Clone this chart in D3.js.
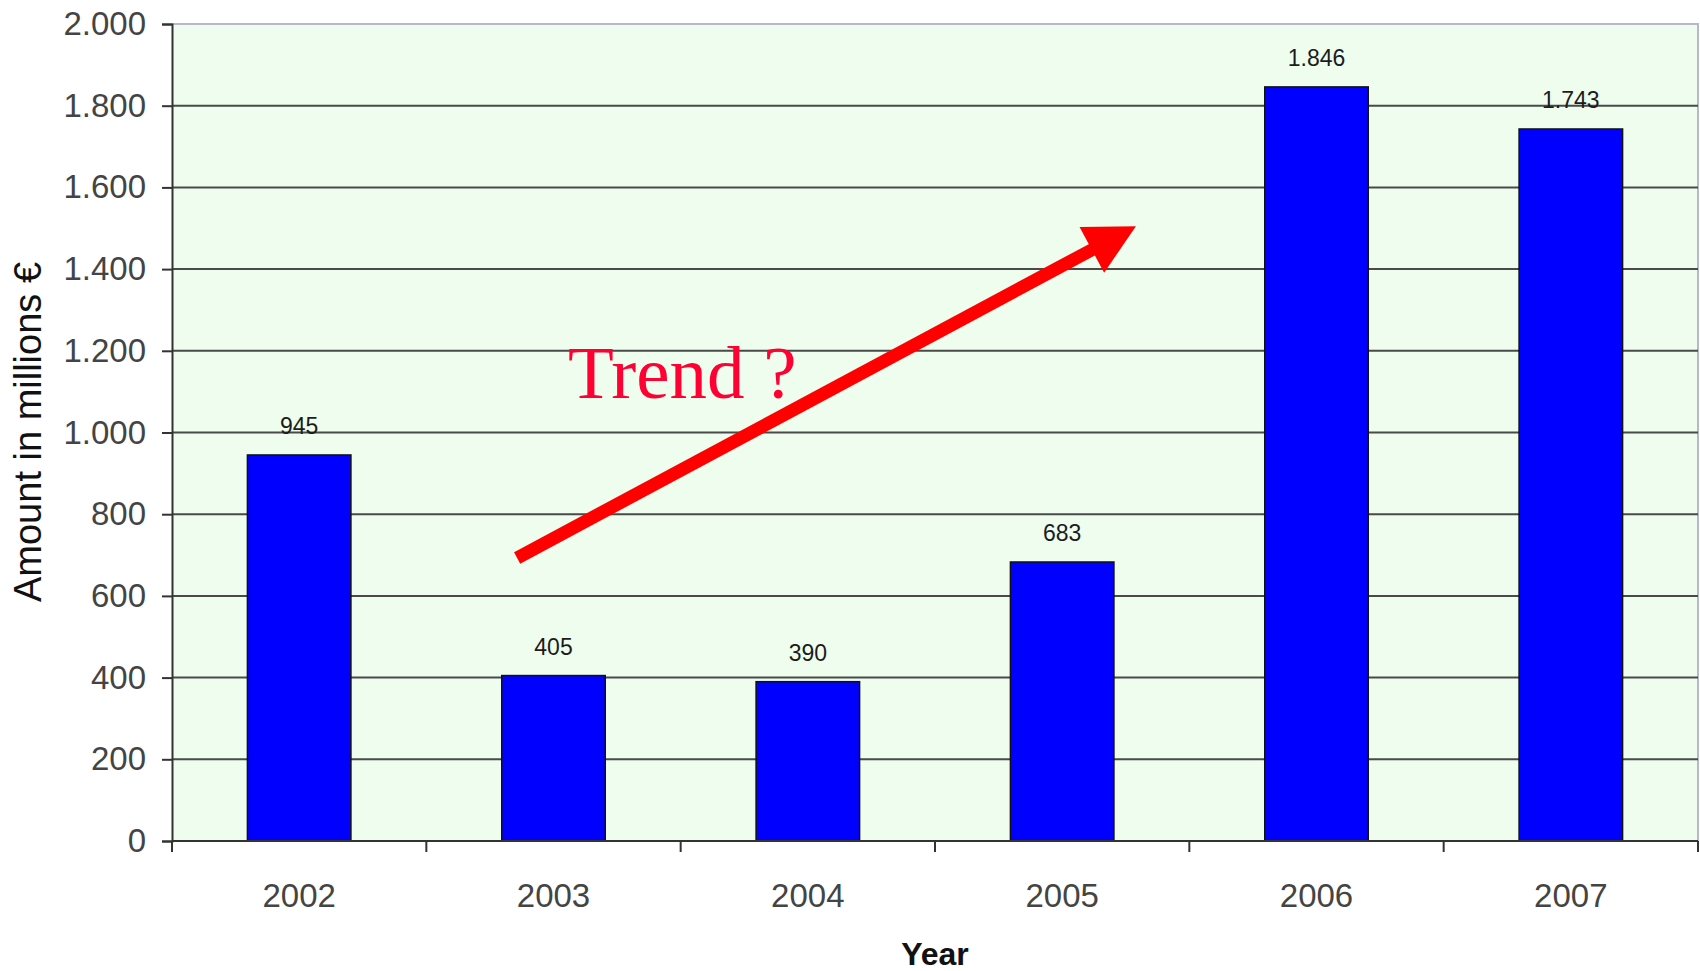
<!DOCTYPE html>
<html>
<head>
<meta charset="utf-8">
<script src="https://cdn.jsdelivr.net/npm/d3@7"></script>
<style>
  body { margin: 0; background: #fff; }
  svg { display: block; }
</style>
</head>
<body>
<div id="chart"></div>
<script>
var years = ["2002", "2003", "2004", "2005", "2006", "2007"]
var amounts = [945, 405, 390, 683, 1846, 1743]
var yTicks = [0, 200, 400, 600, 800, 1000, 1200, 1400, 1600, 1800, 2000]
// arrow annotation in data space: [category index, amount]
var arrowFrom = [0.857, 693]
var arrowTo = [3.29, 1505]
var trendPos = [1.057, 1084]

var width = 1700
var height = 971
var margin = {top: 24, right: 2, bottom: 130, left: 172}
var plotW = width - margin.left - margin.right
var plotH = height - margin.top - margin.bottom

var loc = d3.formatLocale({decimal: ",", thousands: ".", grouping: [3], currency: ["", "€"]})
var fmt = loc.format(",")

var svg = d3.select("#chart").append("svg")
    .attr("width", width)
    .attr("height", height)

var g = svg.append("g")
    .attr("transform", "translate(" + margin.left + "," + margin.top + ")")

var x = d3.scaleBand()
    .domain(years)
    .range([0, plotW])

var xi = d3.scaleLinear()   // index -> pixel (band centres)
    .domain([0, 1])
    .range([x.bandwidth() / 2, x.bandwidth() * 1.5])

var y = d3.scaleLinear()
    .domain([0, 2000])
    .range([plotH, 0])

// plot area
g.append("rect")
    .attr("width", plotW)
    .attr("height", plotH)
    .attr("fill", "#eefdee")

// top + right border
g.append("path")
    .attr("d", "M0,0H" + plotW + "V" + plotH)
    .attr("fill", "none")
    .attr("stroke", "#b8b8cc")
    .attr("stroke-width", 2)

// gridlines
g.selectAll(".grid")
    .data(yTicks.filter(d => d > 0 && d < 2000))
    .join("line")
    .attr("x1", 0)
    .attr("x2", plotW)
    .attr("y1", d => y(d))
    .attr("y2", d => y(d))
    .attr("stroke", "#4a4a4a")
    .attr("stroke-width", 2)

// bars
var barW = x.bandwidth() * 0.407
g.selectAll(".bar")
    .data(amounts)
    .join("rect")
    .attr("x", (d, i) => x(years[i]) + (x.bandwidth() - barW) / 2)
    .attr("y", d => y(d))
    .attr("width", barW)
    .attr("height", d => plotH - y(d))
    .attr("fill", "#0000ff")
    .attr("stroke", "#111")
    .attr("stroke-width", 1.5)

// value labels
g.selectAll(".val")
    .data(amounts)
    .join("text")
    .attr("x", (d, i) => x(years[i]) + x.bandwidth() / 2)
    .attr("y", d => y(d) - 21)
    .attr("text-anchor", "middle")
    .attr("font-family", "Liberation Sans, Arial, sans-serif")
    .attr("font-size", 23)
    .attr("fill", "#1c1c1c")
    .text(d => fmt(d))

// y axis
var yAxis = g.append("g")
    .call(d3.axisLeft(y).tickValues(yTicks).tickFormat(fmt).tickSize(10).tickPadding(16))
yAxis.select(".domain").attr("stroke", "#333").attr("stroke-width", 2)
yAxis.selectAll(".tick line").attr("stroke", "#333").attr("stroke-width", 2)
yAxis.selectAll("text")
    .attr("font-family", "Liberation Sans, Arial, sans-serif")
    .attr("font-size", 33)
    .attr("fill", "#444")

// x axis: ticks on category boundaries
var xAxisG = g.append("g").attr("transform", "translate(0," + plotH + ")")
xAxisG.append("line")
    .attr("x1", 0).attr("x2", plotW)
    .attr("stroke", "#333").attr("stroke-width", 2)
xAxisG.selectAll(".xt")
    .data(d3.range(years.length + 1))
    .join("line")
    .attr("x1", d => d * x.step())
    .attr("x2", d => d * x.step())
    .attr("y1", 0)
    .attr("y2", 11)
    .attr("stroke", "#333")
    .attr("stroke-width", 2)
xAxisG.selectAll(".xl")
    .data(years)
    .join("text")
    .attr("x", d => x(d) + x.bandwidth() / 2)
    .attr("y", 66)
    .attr("text-anchor", "middle")
    .attr("font-family", "Liberation Sans, Arial, sans-serif")
    .attr("font-size", 33)
    .attr("fill", "#444")
    .text(d => d)

// axis titles
svg.append("text")
    .attr("x", margin.left + plotW / 2)
    .attr("y", 965)
    .attr("text-anchor", "middle")
    .attr("font-family", "Liberation Sans, Arial, sans-serif")
    .attr("font-size", 32)
    .attr("font-weight", "bold")
    .attr("fill", "#111")
    .text("Year")

svg.append("text")
    .attr("transform", "translate(41,432) rotate(-90)")
    .attr("text-anchor", "middle")
    .attr("font-family", "Liberation Sans, Arial, sans-serif")
    .attr("font-size", 38)
    .attr("fill", "#111")
    .text("Amount in millions €")

// trend arrow
var x0 = xi(arrowFrom[0]), y0 = y(arrowFrom[1])
var x1 = xi(arrowTo[0]), y1 = y(arrowTo[1])
var ang = Math.atan2(y1 - y0, x1 - x0)
var headLen = 50, headHalf = 26
var bx = x1 - headLen * Math.cos(ang), by = y1 - headLen * Math.sin(ang)
var px = -Math.sin(ang), py = Math.cos(ang)

g.append("line")
    .attr("x1", x0).attr("y1", y0)
    .attr("x2", bx + 2 * Math.cos(ang)).attr("y2", by + 2 * Math.sin(ang))
    .attr("stroke", "#ff0000")
    .attr("stroke-width", 13)

g.append("polygon")
    .attr("points", [[x1, y1], [bx + px * headHalf, by + py * headHalf], [bx - px * headHalf, by - py * headHalf]].join(" "))
    .attr("fill", "#ff0000")

g.append("text")
    .attr("x", xi(trendPos[0]))
    .attr("y", y(trendPos[1]))
    .attr("font-family", "Liberation Serif, Times New Roman, serif")
    .attr("font-size", 75)
    .attr("fill", "#ff0033")
    .text("Trend ?")
</script>
</body>
</html>
